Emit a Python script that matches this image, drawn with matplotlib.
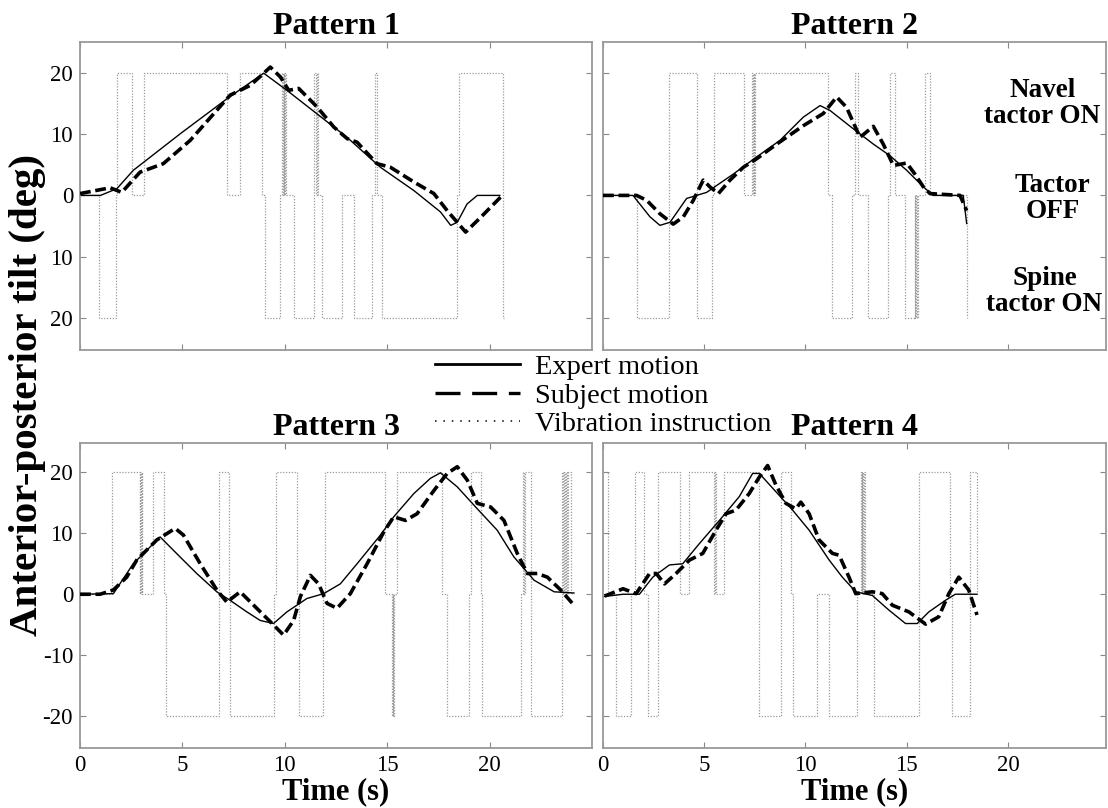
import matplotlib.pyplot as plt
from matplotlib.lines import Line2D

plt.rcParams['font.family'] = ['Liberation Serif', 'DejaVu Serif']

# ---- Pattern 1 ----
p1_te = [0, 1.0, 1.8, 2.6, 4.9, 7.17, 8.97, 10.1, 13.04, 14.67, 16.3, 17.6, 18.1, 18.42, 18.9, 19.4, 20.5]
p1_e = [0, 0, 1.1, 4.1, 10.1, 15.8, 20.0, 17.2, 9.5, 4.6, 0.8, -2.7, -4.9, -4.4, -1.4, 0, 0]
p1_ts = [0, 1.47, 2.04, 2.93, 4.07, 5.38, 7.33, 8.31, 8.88, 9.29, 9.78, 10.19, 10.68, 11.57,
         12.39, 13.04, 13.53, 14.5, 15.16, 16.3, 17.28, 17.93, 18.83, 19.56, 20.62]
p1_s = [0.3, 1.25, 0.5, 3.8, 5.2, 9.0, 16.4, 18.0, 19.7, 21.0, 19.4, 17.2, 17.5, 14.5,
        11.2, 9.3, 8.7, 5.2, 4.6, 2.2, 0.3, -2.5, -6.0, -3.6, 0]
p1_tv = [0, 0.93, 1.76, 1.83, 2.53, 3.13, 7.17, 7.79, 8.88, 9.05, 9.78, 9.86, 9.90, 9.94, 9.98,
         10.02, 10.06, 10.43, 11.41, 11.45, 11.5, 11.55, 11.6, 11.82, 12.8, 13.37, 14.26,
         14.4, 14.5, 14.75, 18.39, 18.5, 20.67, 20.69]
p1_v = [0, -20, 0, 20, 0, 20, 0, 20, 0, -20, 0, 20, 0, 20, 0,
        20, 0, -20, 0, 20, 0, 20, 0, -20, 0, -20, 0,
        20, 0, -20, 0, 20, -20, -20]

# ---- Pattern 2 ----
p2_te = [0, 1.48, 2.32, 2.81, 3.31, 4.13, 5.12, 6.44, 7.59, 8.74, 9.89, 10.72, 11.21, 12.36,
         13.35, 14.17, 15.0, 15.82, 16.31, 17.79, 17.96]
p2_e = [0, 0, -3.5, -4.9, -4.4, -0.5, 0.5, 3.5, 6.3, 9.0, 12.8, 14.7, 13.9, 10.9,
        8.4, 6.5, 4.1, 1.4, 0, 0, -4.6]
p2_ts = [0, 1.66, 2.16, 2.81, 3.47, 3.97, 4.46, 4.95, 5.28, 5.7, 6.27, 6.93, 7.59, 8.58, 9.89,
         10.88, 11.54, 12.03, 12.69, 13.35, 13.84, 14.34, 15.0, 15.4, 15.82, 16.15, 17.63, 17.96]
p2_s = [0, 0, -0.8, -3.0, -4.7, -3.5, -0.8, 2.5, 1.4, 0.3, 2.5, 4.6, 6.0, 8.4, 11.4,
        13.4, 16.1, 14.4, 9.5, 11.3, 8.4, 4.9, 5.3, 3.5, 1.4, 0.3, 0, -2.5]
p2_tv = [0, 1.66, 3.26, 4.63, 5.37, 5.48, 6.96, 7.38, 7.41, 7.44, 7.47, 7.50, 11.13, 11.29,
         12.28, 12.44, 12.6, 13.1, 14.09, 14.17, 14.42, 14.91, 15.40, 15.43, 15.46, 15.49,
         15.55, 15.9, 16.15, 17.96, 17.98]
p2_v = [0, -20, 20, -20, 0, 20, 0, 20, 0, 20, 0, 20, 0, -20,
        0, 20, 0, -20, 0, 20, 0, -20, 0, -20, 0, -20,
        0, 20, 0, -20, -20]

# ---- Pattern 3 ----
p3_te = [0, 1.63, 2.6, 3.26, 3.91, 4.89, 5.7, 6.68, 7.33, 8.15, 8.8, 9.45, 10.1, 11.08, 11.9,
         12.71, 13.53, 14.67, 15.32, 16.3, 17.11, 17.6, 18.42, 19.4, 20.37, 21.19, 22.17,
         23.15, 24.12]
p3_e = [0, 0.1, 5.0, 7.2, 9.4, 6.1, 3.4, 0.4, -1.0, -2.9, -4.3, -4.8, -2.9, -0.7, 0.1,
        1.7, 5.0, 9.7, 12.7, 16.5, 19.0, 19.9, 17.6, 14.0, 10.5, 6.1, 2.3,
        0.4, 0.2]
p3_ts = [0, 0.98, 1.63, 2.28, 2.77, 3.75, 4.65, 5.05, 5.87, 6.68, 7.17, 7.82, 8.48, 9.29,
         9.94, 10.43, 10.76, 11.25, 11.65, 12.06, 12.55, 13.2, 14.02, 14.83, 15.32, 15.89,
         16.46, 17.28, 17.93, 18.42, 18.91, 19.4, 20.05, 20.7, 21.35, 21.84, 22.33, 22.82,
         23.47, 24.12]
p3_s = [0, 0, 0.7, 2.8, 5.6, 8.9, 10.8, 9.7, 5.0, 0.7, -1.3, 0.4, -1.8, -4.5,
        -6.7, -4.3, -0.4, 3.1, 1.7, -1.5, -2.3, 0.1, 5.0, 10.2, 12.7, 12.1,
        13.2, 17.0, 19.8, 20.9, 18.7, 14.9, 14.3, 12.1, 6.7, 3.4, 3.4, 2.8,
        0.7, -1.8]
p3_tv = [0, 1.58, 2.92, 2.95, 2.98, 3.01, 3.03, 3.55, 4.11, 4.2, 6.81, 7.29, 7.33, 9.45,
         9.57, 10.6, 10.68, 11.85, 11.95, 14.87, 15.22, 15.26, 15.30, 15.33, 15.48, 17.68,
         17.93, 18.99, 19.07, 19.56, 19.64, 21.52, 21.65, 21.7, 21.75, 22.04, 23.55, 23.6,
         23.65, 23.7, 23.75, 23.8, 23.85, 23.96, 24.0]
p3_v = [0, 20, 0, 20, 0, 20, 0, 20, 0, -20, 20, 0, -20, 0,
        20, 0, -20, 0, 20, 0, -20, 0, -20, 0, 20, 0,
        -20, 0, 20, 0, -20, 0, 20, 0, 20, -20, 20, 0,
        20, 0, 20, 0, 20, 0, 0]

# ---- Pattern 4 ----
p4_te = [0, 0.99, 1.8, 2.46, 3.28, 3.94, 4.76, 5.75, 6.73, 7.39, 7.72, 8.54, 9.36, 10.18,
         11.17, 11.82, 12.48, 13.3, 14.12, 14.94, 15.52, 16.09, 16.91, 17.4, 18.47]
p4_e = [-0.4, 0, 0, 2.8, 4.8, 5.0, 8.3, 12.1, 16.0, 19.8, 19.8, 16.8, 13.8, 10.5,
        5.6, 2.8, 0.4, -0.2, -2.6, -4.8, -4.8, -2.9, -1.0, 0, 0]
p4_ts = [0.08, 0.99, 1.64, 2.3, 2.63, 3.04, 3.61, 4.27, 4.93, 5.58, 6.08, 6.57, 7.22, 7.72,
         8.13, 8.54, 9.03, 9.52, 9.77, 10.18, 10.67, 11.33, 11.66, 12.15, 12.48, 13.3, 13.79,
         14.29, 15.11, 15.93, 16.58, 17.08, 17.57, 18.06, 18.47]
p4_s = [-0.3, 0.9, 0.1, 3.4, 3.4, 1.7, 3.4, 5.6, 6.7, 10.5, 13.2, 13.8, 16.5, 19.2,
        21.1, 17.9, 14.9, 14.0, 15.1, 13.2, 8.9, 6.7, 6.4, 2.8, 0.1, 0.4, 0.1,
        -1.8, -2.9, -4.9, -3.7, 0.1, 2.8, 0.7, -3.4]
p4_tv = [0, 0.25, 0.62, 1.4, 1.56, 2.05, 2.22, 2.71, 3.78, 4.27, 5.5, 5.53, 5.56, 5.99, 7.72,
         8.78, 9.28, 9.39, 10.59, 11.17, 12.56, 12.73, 12.77, 12.81, 12.85, 12.89, 12.92,
         13.38, 15.6, 17.16, 17.24, 18.14, 18.47, 18.49]
p4_v = [20, 0, -20, 0, 20, 0, -20, 20, 0, 20, 0, 20, 0, 20, -20,
        20, 0, -20, 0, -20, 0, 20, 0, 20, 0, 20, 0,
        -20, 20, 0, -20, 20, 0, 0]

titles = ['Pattern 1', 'Pattern 2', 'Pattern 3', 'Pattern 4']
ytick_vals = [20, 10, 0, -10, -20]
ytick_top = ['20', '10', '0', '10', '20']
ytick_bot = ['20', '10', '0', '-10', '-20']

fig = plt.figure(figsize=(11.08, 8.08), dpi=100)
ax1 = fig.add_axes([0.0722, 0.5668, 0.4621, 0.3812])
ax2 = fig.add_axes([0.5442, 0.5668, 0.4540, 0.3812])
ax3 = fig.add_axes([0.0722, 0.0743, 0.4621, 0.3775])
ax4 = fig.add_axes([0.5442, 0.0743, 0.4540, 0.3775])

panels = [(ax1, p1_tv, p1_v, p1_te, p1_e, p1_ts, p1_s),
          (ax2, p2_tv, p2_v, p2_te, p2_e, p2_ts, p2_s),
          (ax3, p3_tv, p3_v, p3_te, p3_e, p3_ts, p3_s),
          (ax4, p4_tv, p4_v, p4_te, p4_e, p4_ts, p4_s)]

for i, (ax, tv, v, te, e, ts, s) in enumerate(panels):
    ax.plot(tv, v, color='#9a9a9a', lw=0.9, ls=(0, (1, 1.3)), drawstyle='steps-post', zorder=1)
    ax.plot(te, e, color='black', lw=1.0, zorder=2)
    ax.plot(ts, s, color='black', lw=2.6, ls=(0, (3, 1.3)), zorder=3)
    ax.set_title(titles[i], fontsize=23, fontweight='bold', pad=6)
    ax.set_xticks([0, 5, 10, 15, 20])
    ax.set_yticks(ytick_vals)
    ax.tick_params(direction='in', length=4, width=0.8, color='#888888', top=True, right=True,
                   labelsize=16.5, pad=5)
    for sp in ax.spines.values():
        sp.set_color('#999999')
        sp.set_linewidth(1.3)
    if i < 2:
        ax.set_ylim(-25.3, 25.1)
        ax.tick_params(labelbottom=False)
    else:
        ax.set_ylim(-25.2, 24.8)
        ax.set_xticklabels(['0', '5', '10', '15', '20'])
        ax.set_xlabel('Time (s)', fontsize=22, fontweight='bold', labelpad=1)
    if i % 2 == 0:
        ax.set_xlim(0, 25)
        ax.set_yticklabels(ytick_top if i == 0 else ytick_bot)
    else:
        ax.set_xlim(0, 24.84)
        ax.tick_params(labelleft=False)

ax2.text(21.7, 15.0, 'Navel\ntactor ON', ha='center', va='center', fontsize=19.5,
         fontweight='bold', linespacing=1.05)
ax2.text(22.2, -0.5, 'Tactor\nOFF', ha='center', va='center', fontsize=19.5,
         fontweight='bold', linespacing=1.05)
ax2.text(21.8, -15.8, 'Spine\ntactor ON', ha='center', va='center', fontsize=19.5,
         fontweight='bold', linespacing=1.05)

fig.text(0.0244, 0.511, 'Anterior-posterior tilt (deg)', rotation=90, ha='center', va='center',
         fontsize=29.5, fontweight='bold')

handles = [Line2D([], [], color='black', lw=2.0),
           Line2D([], [], color='black', lw=2.4, ls=(0, (7.5, 3.5))),
           Line2D([], [], color='black', lw=1.1, ls=(0, (1, 4.5)))]
fig.legend(handles, ['Expert motion', 'Subject motion', 'Vibration instruction'],
           loc='upper left', bbox_to_anchor=(0.3926, 0.562), frameon=False, fontsize=20.5,
           handlelength=3.0, handletextpad=0.5, labelspacing=0.1, borderpad=0,
           borderaxespad=0)

fig.savefig('out.png', dpi=100)
